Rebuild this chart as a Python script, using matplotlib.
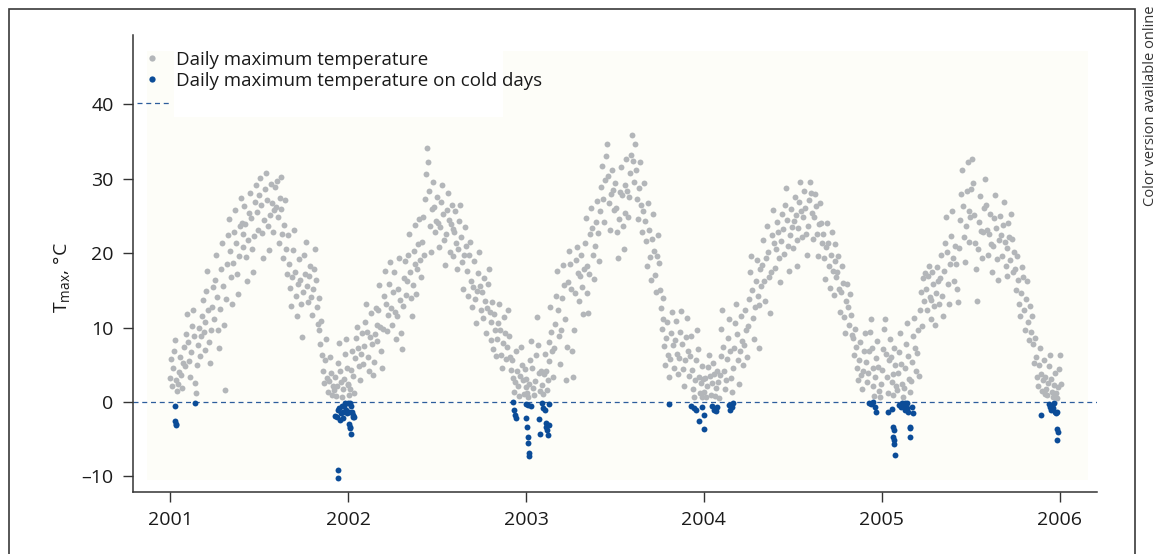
import numpy as np
import matplotlib.pyplot as plt
from matplotlib.lines import Line2D
from matplotlib.patches import Rectangle

plt.rcParams['font.family'] = ['Open Sans', 'DejaVu Sans']
plt.rcParams['mathtext.fontset'] = 'custom'
plt.rcParams['mathtext.rm'] = 'Open Sans'

years = [2001, 2002, 2003, 2004, 2005, 2006]

# daily maximum temperature (°C) for every second day
tmax_2001 = [3.2, 5.8, 2.1, 4.5, 6.9, 8.3, 3.0, 1.5, 2.4, 4.0, 6.1, 3.6, 1.9, 5.2, 7.4, 4.8,
             9.1, 11.8, 8.0, 5.5, 3.3, 6.7, 10.2, 12.4, 8.8, 2.6, 1.2, 4.9, 7.6, 9.9,
             6.2, 8.9, 11.5, 13.7, 9.4, 7.0, 10.8, 14.9, 17.6, 12.3, 8.1, 5.2, 9.7, 12.8, 15.5,
             11.2, 16.4, 19.8, 14.1, 9.6, 7.3, 12.5, 17.9, 21.3, 15.6, 10.4, 1.6, 13.8, 18.5, 22.4,
             24.6, 20.3, 16.8, 13.1, 18.7, 22.9, 25.8, 21.4, 17.2, 14.5, 19.6, 23.7, 27.4, 24.1, 20.8, 22.5,
             26.3, 23.9, 19.5, 16.2, 21.8, 25.4, 28.1, 24.7, 20.6, 17.4, 22.3, 26.9, 29.2, 25.5, 23.1,
             27.8, 30.1, 26.4, 22.7, 19.3, 24.5, 28.6, 30.8, 27.2, 23.6, 20.4, 25.1, 29.3, 26.7, 22.9, 25.8,
             28.9, 26.2, 29.7, 24.8, 21.3, 27.4, 30.2, 25.9, 22.6, 19.4, 23.8, 27.1, 20.5, 17.2, 22.4,
             18.6, 15.3, 12.9, 16.8, 20.4, 23.1, 17.5, 14.2, 11.6, 15.9, 19.2, 16.4, 13.1, 8.7, 14.8,
             19.8, 17.2, 21.5, 15.6, 13.4, 16.9, 18.3, 14.1, 11.7, 15.2, 17.8, 20.6, 16.4, 12.8, 10.5, 13.9,
             9.6, 7.8, 10.9, 6.3, 4.1, 2.5, 5.7, 8.4, 3.2, 1.4, 2.8, 6.1, 3.9, 0.9, 2.2,
             1.6, 3.4, 0.8, 2.1, 5.3, 7.9, 4.2, 2.7, 0.6, 1.8, 3.1, 6.4, 8.5, 4.6, 2.3]
tmax_2002 = [2.4, 0.9, 1.7, 4.3, 6.8, 3.5, 1.2, 5.9, 8.6, 10.1, 7.2, 4.8, 2.9, 6.4, 9.3, 5.1,
             7.5, 10.8, 13.2, 9.4, 6.1, 4.2, 8.7, 11.9, 7.8, 3.6, 5.4, 9.1, 12.6, 10.3,
             8.2, 12.4, 15.7, 10.1, 6.9, 4.5, 9.8, 14.3, 17.6, 13.2, 9.5, 11.7, 15.9, 18.8, 12.6,
             10.3, 14.8, 17.5, 12.1, 8.4, 11.6, 15.2, 19.4, 13.7, 9.2, 7.1, 12.9, 16.6, 18.9, 14.4,
             16.2, 19.8, 22.5, 17.4, 13.9, 11.6, 15.7, 20.3, 23.8, 18.6, 14.5, 17.9, 21.2, 24.6, 19.1, 16.8,
             21.5, 24.8, 19.7, 27.3, 30.6, 34.1, 32.2, 28.4, 23.6, 20.1, 25.9, 29.5, 26.2, 22.8, 24.3,
             27.6, 24.1, 20.8, 23.5, 26.9, 29.2, 25.3, 21.7, 18.4, 22.6, 25.8, 28.1, 24.4, 20.2, 23.9, 26.5,
             23.2, 19.6, 22.8, 25.7, 21.4, 17.9, 20.5, 24.3, 26.4, 22.1, 18.8, 15.2, 19.7, 23.5, 20.9,
             17.6, 14.3, 19.8, 21.5, 16.2, 12.7, 15.4, 18.9, 13.8, 10.6, 14.9, 17.3, 20.1, 15.6, 12.4,
             14.8, 11.3, 16.7, 13.5, 9.2, 12.6, 15.9, 17.8, 12.1, 8.3, 10.7, 13.4, 7.1, 11.8, 9.6, 6.2,
             8.4, 10.6, 13.1, 9.7, 6.3, 4.5, 7.9, 11.4, 9.2, 5.8, 7.4, 12.3, 8.8, 6.1, 4.3,
             5.6, 3.2, 1.4, 2.7, 6.9, 4.1, 2.2, 0.8, 3.5, 7.4, 5.0, 2.9, 1.1, 4.4, 2.0]
tmax_2003 = [3.1, 1.2, 0.6, 2.4, 5.7, 8.2, 4.6, 1.9, 0.9, 2.8, 6.3, 11.4, 7.6, 3.9, 1.5, 4.2,
             2.3, 1.1, 3.8, 6.4, 4.2, 1.6, 2.9, 5.5, 8.1, 12.7, 9.4, 6.8, 3.4, 7.2,
             10.5, 14.2, 17.6, 12.3, 8.8, 5.1, 9.6, 13.9, 18.4, 15.7, 11.2, 3.0, 7.4, 16.1, 20.3,
             18.5, 15.2, 6.8, 3.4, 9.7, 14.6, 19.1, 20.8, 17.3, 13.5, 16.9, 19.7, 15.4, 11.8, 17.9,
             21.4, 24.7, 18.3, 14.6, 11.9, 17.2, 22.5, 26.1, 23.4, 19.8, 16.5, 20.9, 24.2, 27.0, 22.7, 18.9,
             25.6, 28.9, 31.7, 27.3, 24.2, 29.8, 33.1, 34.6, 30.4, 26.7, 23.1, 27.9, 31.2, 28.5, 25.8,
             29.4, 26.1, 22.8, 19.3, 24.6, 28.2, 31.5, 27.8, 23.7, 20.5, 25.4, 29.1, 32.6, 28.4, 24.9, 27.5,
             30.8, 33.2, 35.9, 32.4, 29.6, 34.7, 31.1, 27.3, 24.6, 28.8, 32.3, 26.5, 22.9, 25.7, 29.4,
             24.3, 21.6, 18.2, 26.7, 23.1, 19.5, 16.4, 21.9, 25.2, 20.3, 17.1, 14.8, 19.6, 22.4, 18.7,
             15.1, 12.6, 9.8, 13.9, 11.2, 7.5, 4.9, 8.6, 10.7, 6.3, 3.4, 5.8, 9.2, 12.1, 7.7, 4.6,
             8.3, 10.9, 6.5, 3.8, 5.9, 9.4, 12.2, 7.8, 4.4, 2.1, 5.6, 8.7, 11.3, 6.9, 3.5,
             6.2, 8.9, 4.3, 1.8, 0.7, 2.9, 5.6, 9.7, 7.1, 3.4, 1.2, 2.5, 4.8, 0.6, 3.1]
tmax_2004 = [1.4, 3.2, 0.6, 2.1, 4.7, 6.3, 3.5, 1.0, 2.6, 5.2, 3.8, 0.8, 1.9, 4.1, 2.7, 0.5,
             3.6, 6.2, 9.8, 12.3, 7.4, 4.1, 1.7, 2.9, 5.8, 8.6, 11.1, 6.9, 3.2, 1.3,
             4.5, 7.3, 10.6, 13.2, 9.1, 5.6, 2.4, 6.8, 11.5, 8.2, 4.9, 7.7, 12.4, 9.6, 6.1,
             10.2, 13.8, 17.4, 19.6, 15.1, 11.3, 8.5, 12.7, 16.3, 19.1, 14.2, 7.2, 13.0, 17.8, 15.6,
             18.4, 21.7, 16.2, 13.5, 19.3, 23.6, 20.1, 16.8, 11.9, 17.5, 22.4, 25.8, 21.3, 18.0, 20.6, 24.2,
             22.8, 19.4, 16.1, 21.6, 25.3, 23.2, 19.9, 26.4, 28.7, 24.5, 21.0, 17.6, 22.4, 25.9, 23.5,
             20.7, 24.3, 27.6, 25.1, 21.8, 18.2, 23.4, 26.8, 29.5, 25.7, 22.1, 24.9, 28.3, 26.0, 22.6, 19.8,
             23.7, 27.2, 29.6, 28.1, 25.4, 21.9, 24.8, 27.9, 26.3, 22.5, 19.6, 23.9, 26.7, 24.1, 21.3,
             22.6, 19.3, 16.5, 20.8, 24.1, 21.4, 18.2, 15.3, 19.7, 22.9, 17.6, 14.4, 18.9, 21.2, 16.8,
             17.4, 19.6, 15.2, 12.1, 14.8, 18.3, 16.0, 11.4, 9.2, 13.6, 15.9, 12.8, 10.3, 14.5, 11.7, 9.0,
             8.6, 6.3, 9.8, 7.4, 4.5, 2.9, 5.7, 8.1, 3.6, 1.8, 4.2, 6.9, 9.3, 5.4, 2.7,
             3.9, 6.8, 9.4, 11.2, 7.3, 4.6, 2.1, 0.8, 3.3, 5.9, 8.2, 4.7, 1.5, 0.6, 2.4]
tmax_2005 = [4.3, 7.1, 9.8, 11.2, 6.5, 3.4, 1.2, 5.6, 8.4, 6.0, 2.7, 0.9, 3.8, 7.3, 4.9, 2.2,
             1.6, 3.9, 6.7, 9.2, 5.1, 2.4, 0.7, 1.9, 4.5, 7.8, 10.6, 6.2, 3.1, 1.3,
             2.8, 5.4, 8.9, 11.3, 7.2, 4.1, 6.6, 9.7, 3.5, 12.4, 14.8, 10.2, 16.6, 13.5, 17.3,
             15.2, 12.4, 16.9, 18.3, 14.1, 11.2, 13.7, 17.5, 15.8, 12.9, 10.4, 14.6, 18.1, 16.3, 13.2,
             16.7, 19.8, 14.3, 11.5, 17.6, 21.4, 24.8, 20.2, 15.9, 13.1, 18.5, 22.3, 25.7, 19.4, 16.2, 21.0,
             18.6, 15.2, 13.4, 20.7, 24.5, 27.9, 31.2, 26.3, 22.1, 18.8, 23.6, 28.4, 32.3, 25.7, 21.5,
             24.9, 28.6, 32.6, 29.4, 25.1, 21.3, 17.8, 13.6, 20.5, 24.2, 27.7, 23.0, 19.4, 22.8, 26.1, 29.9,
             26.4, 23.1, 19.7, 22.6, 25.3, 21.2, 17.5, 20.9, 24.7, 27.8, 23.4, 19.2, 16.4, 21.8, 25.0,
             22.4, 19.6, 23.8, 26.9, 21.5, 18.3, 16.9, 20.7, 24.1, 22.2, 19.1, 25.3, 21.9, 17.4, 20.2,
             17.8, 15.1, 19.6, 16.4, 13.2, 11.5, 14.7, 18.1, 16.8, 12.4, 9.6, 13.8, 16.2, 10.7, 8.3, 12.9,
             9.4, 11.6, 7.8, 5.2, 8.6, 6.1, 3.4, 2.2, 4.9, 7.3, 3.8, 1.5, 2.9, 5.6, 1.1,
             3.4, 1.7, 0.9, 2.6, 4.8, 6.3, 3.1, 1.4, 0.6, 2.3, 3.9, 1.2, 0.5, 2.0, 4.4]
tmax_2006 = [6.3, 2.4]

# cold days: days since 1 Jan 2001 and their Tmax (°C)
cold_day = [9, 10, 11, 12, 51,
            338, 342, 345, 345, 345, 347, 349, 350, 352, 354, 355, 357, 359, 361, 362, 364,
            366, 366, 368, 369, 369, 370, 371, 372, 374, 376, 377,
            704, 706, 707, 709, 731, 731, 733, 734, 735, 736, 737, 735, 740,
            757, 759, 763, 766, 769, 771, 772, 774, 776, 777, 778,
            1025, 1070, 1075, 1080, 1085, 1091, 1095, 1095, 1113, 1117, 1120, 1122,
            1148, 1150, 1153, 1155,
            1435, 1439, 1443, 1447, 1449, 1474, 1482, 1484, 1485, 1486, 1486, 1486, 1488,
            1496, 1500, 1502, 1505, 1508, 1508, 1511, 1513, 1513, 1515, 1518, 1518, 1519, 1523, 1525,
            1787, 1805, 1807, 1809, 1811, 1812, 1815, 1816, 1818, 1820, 1821, 1823, 1820]
cold_tmax = [-0.5, -2.6, -2.9, -3.1, -0.1,
             -1.9, -2.0, -1.1, -9.1, -10.2, -0.8, -2.4, -1.5, -0.5, -1.3, -2.2, -0.6, -0.1, -1.1, -1.5, -0.1,
             -1.3, -3.0, -3.3, -3.5, -0.2, -4.3, -0.5, -1.3, -2.0, -1.8, -2.0,
             -0.05, -1.1, -1.7, -2.1, -0.3, -2.2, -3.4, -4.7, -5.5, -6.8, -7.2, -0.4, -0.6,
             -2.3, -4.3, -0.1, -0.8, -1.1, -2.8, -3.3, -3.8, -4.4, -3.1, -0.3,
             -0.3, -0.6, -0.8, -1.1, -2.5, -0.7, -1.7, -3.7, -0.5, -1.1, -1.2, -0.7,
             -0.4, -1.1, -0.7, -0.2,
             -0.1, -0.3, -0.05, -0.7, -1.3, -1.3, -1.0, -3.3, -4.7, -5.1, -3.8, -5.6, -7.1,
             -0.4, -0.7, -0.1, -0.6, -1.1, -0.2, -0.3, -0.8, -0.1, -1.3, -3.3, -4.7, -3.5, -0.7, -1.5,
             -1.7, -0.3, -0.7, -1.1, -0.5, -0.8, -0.1, -1.4, -1.5, -1.3, -3.7, -4.0, -5.1]

gray_x, gray_y = [], []
for yr, vals in zip(years, [tmax_2001, tmax_2002, tmax_2003, tmax_2004, tmax_2005, tmax_2006]):
    gray_x += list(yr + np.arange(len(vals)) * 2 / 365.0)
    gray_y += vals
cold_x = 2001 + np.array(cold_day) / 365.25

gray = '#b3b6b9'
blue = '#0b4c98'
dash = '#2d5d9c'

fig = plt.figure(figsize=(11.58, 5.54), dpi=100)
ax = fig.add_axes([0.1149, 0.1119, 0.8324, 0.8249])

ax.add_patch(Rectangle((2000.87, -10.5), 5.29, 57.7, color='#fdfdf8', lw=0, zorder=0))
ax.add_patch(Rectangle((2001.02, 38.3), 1.85, 9.0, color='white', lw=0, zorder=0.5))

ax.axhline(0, color=dash, lw=0.9, ls=(0, (4, 3)), zorder=1)
ax.plot([2000.81, 2001.0], [40.2, 40.2], color=dash, lw=0.9, ls=(0, (4, 3)), zorder=1)

ax.scatter(gray_x, gray_y, s=18, color=gray, lw=0, zorder=2)
ax.scatter(cold_x, cold_tmax, s=18, color=blue, lw=0, zorder=3)

ax.set_xlim(2000.79, 2006.21)
ax.set_ylim(-12.1, 49.3)
ax.set_xticks(years)
ax.set_yticks([-10, 0, 10, 20, 30, 40])
ax.set_yticklabels(['–10', '0', '10', '20', '30', '40'])
for s in ['top', 'right']:
    ax.spines[s].set_visible(False)
for s in ['left', 'bottom']:
    ax.spines[s].set_linewidth(1.1)
    ax.spines[s].set_color('#333333')
ax.tick_params(length=7, width=1, color='#333333', labelcolor='#1a1a1a', labelsize=14, pad=7)

ax.set_ylabel(r'T$_{\rm max}$, °C', fontsize=14, color='#1a1a1a')
ax.yaxis.set_label_coords(-0.062, 0.47)

handles = [Line2D([], [], ls='', marker='o', ms=4.5, mec='none', color=gray),
           Line2D([], [], ls='', marker='o', ms=4.5, mec='none', color=blue)]
ax.legend(handles, ['Daily maximum temperature', 'Daily maximum temperature on cold days'],
          loc='upper left', bbox_to_anchor=(0.012, 0.965), frameon=False, fontsize=13.5,
          handlelength=0.8, handletextpad=0.85, labelspacing=0.15, borderpad=0, borderaxespad=0,
          labelcolor='#1a1a1a')

fig.add_artist(Rectangle((9 / 1158, -0.1), 1126 / 1158, 1.1 - 9 / 554, transform=fig.transFigure,
                         fill=False, ec='#3a3a3a', lw=1.2))
fig.text(1150 / 1158, 1 - 5 / 554, 'Color version available online', rotation=90,
         ha='center', va='top', fontsize=10.5, color='#333333')

fig.savefig('out.png', dpi=100)
